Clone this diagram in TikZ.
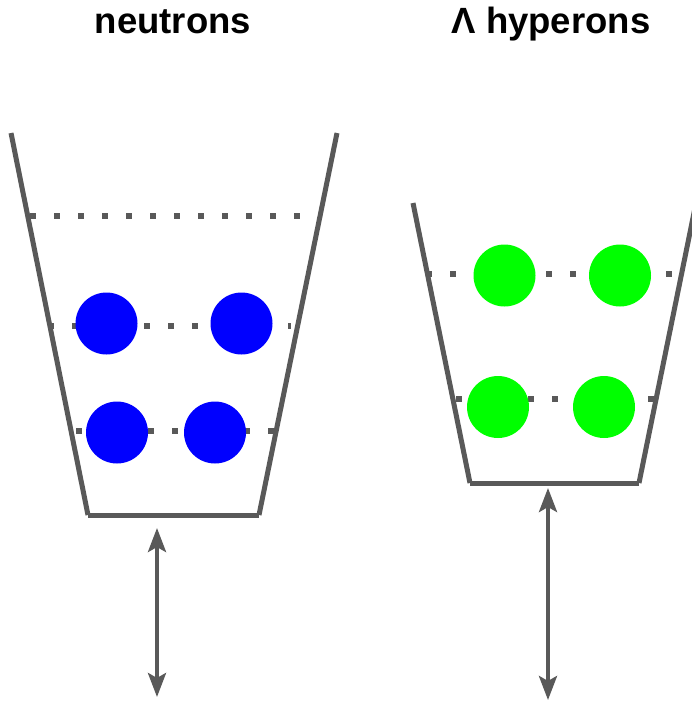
\documentclass[tikz,border=0pt]{standalone}
\usepackage{fontspec}
\setmainfont{Liberation Sans}
\usetikzlibrary{arrows.meta}
\definecolor{wallgray}{HTML}{595959}
\tikzset{
  wall/.style={draw=wallgray, line width=5pt},
  level/.style={draw=wallgray, line width=6pt, dash pattern=on 6pt off 18pt},
  particle/.style={circle, minimum size=62pt, inner sep=0pt},
  neutron/.style={particle, fill=blue},
  hyperon/.style={particle, fill={rgb,255:red,0;green,255;blue,0}},
  gap/.style={draw=wallgray, line width=4pt, {Stealth[length=24pt,width=18pt,inset=5pt]}-{Stealth[length=24pt,width=18pt,inset=5pt]}},
  title/.style={font=\fontsize{36.5}{40}\selectfont\bfseries, anchor=base, inner sep=0pt}
}
\begin{document}
\begin{tikzpicture}[x=1pt,y=-1pt]
\useasboundingbox (0,0) rectangle (692,702);
\clip (0,0) rectangle (692,702);
% titles
\node[title] (tn) at (173,33) {neutrons};
\node[title] (th) at (551,33) {Λ hyperons};
% levels (left)
\coordinate (l1a) at (30,216); \coordinate (l1b) at (302,216);
\coordinate (l2a) at (48,326); \coordinate (l2b) at (291,326);
\coordinate (l3a) at (76,431); \coordinate (l3b) at (274,431);
\draw[level] (l1a) -- (l1b);
\draw[level] (l2a) -- (l2b);
\draw[level] (l3a) -- (l3b);
% levels (right)
\coordinate (r1a) at (426,274); \coordinate (r1b) at (682,274);
\coordinate (r2a) at (456,399); \coordinate (r2b) at (656,399);
\draw[level] (r1a) -- (r1b);
\draw[level] (r2a) -- (r2b);
% particles
\node[neutron] (n1) at (106.5,323.5) {};
\node[neutron] (n2) at (241.5,323.5) {};
\node[neutron] (n3) at (117,432.5) {};
\node[neutron] (n4) at (215,432.5) {};
\node[hyperon] (h1) at (504.5,275.5) {};
\node[hyperon] (h2) at (620,275.5) {};
\node[hyperon] (h3) at (498,407) {};
\node[hyperon] (h4) at (604,407) {};
% left well
\coordinate (lt1) at (11,133); \coordinate (lb1) at (88,515);
\coordinate (lb2) at (259,515); \coordinate (lt2) at (337,133);
\draw[wall] (lt1) -- (lb1);
\draw[wall] (lt2) -- (lb2);
\draw[wall] (lb1) -- (lb2);
% right well
\coordinate (rt1) at (413,203); \coordinate (rb1) at (470,483);
\coordinate (rb2) at (639,483); \coordinate (rt2) at (696,203);
\draw[wall] (rt1) -- (rb1);
\draw[wall] (rt2) -- (rb2);
\draw[wall] (rb1) -- (rb2);
% arrows
\coordinate (al1) at (157,528); \coordinate (al2) at (157,697);
\coordinate (ar1) at (548,488); \coordinate (ar2) at (548,700);
\draw[gap] (al1) -- (al2);
\draw[gap] (ar1) -- (ar2);
\end{tikzpicture}
\end{document}
